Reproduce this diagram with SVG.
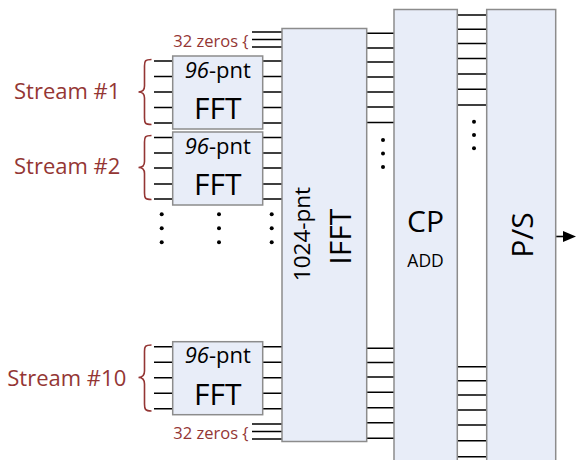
<svg xmlns="http://www.w3.org/2000/svg" width="576" height="460" viewBox="0 0 576 460">
<style>
.box{fill:#e8edf8;stroke:#8c8c8c;stroke-width:1.5}
.ln{stroke:#000;stroke-width:1.6;fill:none}
.br{stroke:#943634;stroke-width:1.6;fill:none}
.red{fill:#943634;font-family:"Open Sans","Noto Sans",sans-serif}
.blk{fill:#000;font-family:"Open Sans","Noto Sans",sans-serif}
.dot{fill:#000}
</style>
<rect width="576" height="460" fill="#fff"/>

<g id="connectors">
<!-- top 32 zeros -->
<path class="ln" d="M252,32H282M252,39.5H282M252,47H282"/>
<!-- FFT1 -->
<path class="ln" d="M154,61H173M154,76.5H173M154,92H173M154,107.5H173M154,123H173"/>
<path class="ln" d="M262.7,61H282M262.7,76.5H282M262.7,92H282M262.7,107.5H282M262.7,123H282"/>
<!-- FFT2 -->
<path class="ln" d="M154,137.5H173M154,153H173M154,168H173M154,184H173M154,199H173"/>
<path class="ln" d="M262.7,137.5H282M262.7,153H282M262.7,168H282M262.7,184H282M262.7,199H282"/>
<!-- FFT10 -->
<path class="ln" d="M154,346.7H173M154,362.2H173M154,377.7H173M154,393.2H173M154,408.7H173"/>
<path class="ln" d="M262.7,346.7H282M262.7,362.2H282M262.7,377.7H282M262.7,393.2H282M262.7,408.7H282"/>
<!-- bottom 32 zeros -->
<path class="ln" d="M252,424H282M252,431.5H282M252,439H282"/>
<!-- IFFT to CP -->
<path class="ln" d="M366.7,33.3H394M366.7,48H394M366.7,62H394M366.7,77H394M366.7,92H394M366.7,107H394M366.7,122.5H394"/>
<path class="ln" d="M366.7,348.3H394M366.7,362.5H394M366.7,377H394M366.7,392.3H394M366.7,407.7H394M366.7,422.7H394M366.7,438.3H394"/>
<!-- CP to P/S -->
<path class="ln" d="M457.3,15H486.7M457.3,29.3H486.7M457.3,43.5H486.7M457.3,58.5H486.7M457.3,74H486.7M457.3,89.3H486.7M457.3,105H486.7"/>
<path class="ln" d="M457.3,366.7H486.7M457.3,380.7H486.7M457.3,395H486.7M457.3,410H486.7M457.3,425H486.7M457.3,440.7H486.7M457.3,456.7H486.7"/>
<!-- output arrow -->
<line class="ln" x1="555.7" y1="236.5" x2="564" y2="236.5"/>
<path d="M563,231 L576,236.5 L563,242 Z" fill="#000"/>
<!-- dots -->
<g class="dot">
<circle cx="161.7" cy="214.3" r="2"/><circle cx="161.7" cy="228.3" r="2"/><circle cx="161.7" cy="242.3" r="2"/>
<circle cx="219" cy="214.3" r="2"/><circle cx="219" cy="228.3" r="2"/><circle cx="219" cy="242.3" r="2"/>
<circle cx="271.7" cy="214.3" r="2"/><circle cx="271.7" cy="228.3" r="2"/><circle cx="271.7" cy="242.3" r="2"/>
<circle cx="383" cy="140" r="2"/><circle cx="383" cy="153.5" r="2"/><circle cx="383" cy="167" r="2"/>
<circle cx="474" cy="121.7" r="2"/><circle cx="474" cy="135" r="2"/><circle cx="474" cy="148.3" r="2"/>
</g>
</g>

<g id="zeros-top">
<text class="red" x="248.5" y="46.5" font-size="16.5" text-anchor="end">32 zeros {</text>
</g>

<g id="stream1">
<path class="br" d="M151.5,59.5 C145,59.5 144.5,61 144.5,66 L144.5,86 C144.5,90 143,92 138.5,92 C143,92 144.5,94 144.5,98 L144.5,118 C144.5,123 145,124.5 151.5,124.5"/>
<text class="red" x="14" y="99.3" font-size="22">Stream #1</text>
</g>
<g id="fft1">
<rect class="box" x="172.7" y="56" width="90" height="73"/>
<text class="blk" x="217.7" y="77.7" font-size="22" text-anchor="middle"><tspan font-style="italic">96</tspan>-pnt</text>
<text class="blk" x="217.7" y="119" font-size="30" text-anchor="middle">FFT</text>
</g>

<g id="stream2">
<path class="br" d="M151.5,135.5 C145,135.5 144.5,137 144.5,142 L144.5,161.5 C144.5,165.5 143,167.5 138.5,167.5 C143,167.5 144.5,169.5 144.5,173.5 L144.5,193 C144.5,198 145,199.5 151.5,199.5"/>
<text class="red" x="14" y="174" font-size="22">Stream #2</text>
</g>
<g id="fft2">
<rect class="box" x="172.7" y="132" width="90" height="73"/>
<text class="blk" x="217.7" y="153.7" font-size="22" text-anchor="middle"><tspan font-style="italic">96</tspan>-pnt</text>
<text class="blk" x="217.7" y="195" font-size="30" text-anchor="middle">FFT</text>
</g>

<g id="stream10">
<path class="br" d="M151.5,345 C145,345 144.5,346.5 144.5,351.5 L144.5,371 C144.5,375 143,377.5 138.5,377.5 C143,377.5 144.5,380 144.5,384 L144.5,404 C144.5,409 145,411 151.5,411"/>
<text class="red" x="7.3" y="386" font-size="22">Stream #10</text>
</g>
<g id="fft10">
<rect class="box" x="172.7" y="341.7" width="90" height="73"/>
<text class="blk" x="217.7" y="363.4" font-size="22" text-anchor="middle"><tspan font-style="italic">96</tspan>-pnt</text>
<text class="blk" x="217.7" y="404.7" font-size="30" text-anchor="middle">FFT</text>
</g>

<g id="zeros-bottom">
<text class="red" x="248.5" y="438.5" font-size="16.5" text-anchor="end">32 zeros {</text>
</g>

<g id="ifft">
<rect class="box" x="282" y="28.5" width="84.7" height="413"/>
<text class="blk" transform="translate(309.5,234) rotate(-90)" font-size="22.5" text-anchor="middle">1024-pnt</text>
<text class="blk" transform="translate(351,236.7) rotate(-90)" font-size="30" text-anchor="middle">IFFT</text>
</g>

<g id="cp">
<rect class="box" x="394" y="9.5" width="63.3" height="460"/>
<text class="blk" x="425.6" y="231.7" font-size="30" text-anchor="middle">CP</text>
<text class="blk" x="425.6" y="266.7" font-size="17.5" text-anchor="middle">ADD</text>
</g>

<g id="ps">
<rect class="box" x="486.7" y="9.5" width="69" height="460"/>
<text class="blk" transform="translate(533,235) rotate(-90)" font-size="30" text-anchor="middle">P/S</text>
</g>
</svg>
